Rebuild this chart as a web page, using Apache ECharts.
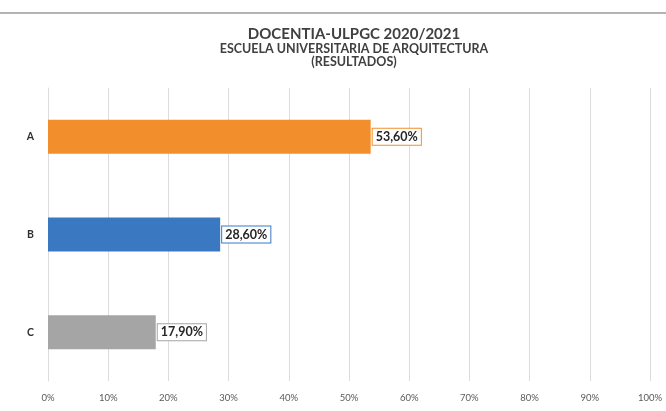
<!DOCTYPE html>
<html><head><meta charset="utf-8">
<script src="https://cdn.jsdelivr.net/npm/echarts@6/dist/echarts.min.js"></script>
<style>html,body{margin:0;padding:0;background:#fff}#c{width:666px;height:411px}</style>
</head><body><div id="c"></div>
<script>
const categories = ['A', 'B', 'C'];
const values = [53.6, 28.6, 17.9];
const barColors = ['#f28e2b', '#3a78c2', '#a5a5a5'];
const titleText = 'DOCENTIA-ULPGC 2020/2021';
const subtitleText = 'ESCUELA UNIVERSITARIA DE ARQUITECTURA\n(RESULTADOS)';

const FF = 'Lato, "Open Sans", sans-serif';
const chart = echarts.init(document.getElementById('c'));
chart.setOption({
  animation: false,
  backgroundColor: '#fff',
  textStyle: { fontFamily: FF },
  graphic: [{ type: 'line', shape: { x1: 0, y1: 13, x2: 666, y2: 13 }, style: { stroke: '#9a9a9a', lineWidth: 1.5 } }],
  title: {
    text: titleText,
    subtext: subtitleText,
    left: 349, top: 21, textAlign: 'center',
    itemGap: 0,
    textStyle: { fontSize: 15, fontWeight: 'bold', color: '#404040', fontFamily: FF, lineHeight: 16 },
    subtextStyle: { fontSize: 12.5, fontWeight: 'bold', color: '#404040', lineHeight: 13.5, fontFamily: FF }
  },
  grid: { left: 48, right: 16, top: 88, bottom: 30, containLabel: false },
  xAxis: {
    type: 'value', min: 0, max: 100, interval: 10,
    axisLabel: { formatter: '{value}%', color: '#595959', fontSize: 9.5, margin: 12, fontFamily: FF },
    splitLine: { show: true, lineStyle: { color: '#dcdcdc' } },
    axisLine: { show: false }, axisTick: { show: false }
  },
  yAxis: {
    type: 'category', data: categories, inverse: true,
    axisLabel: { color: '#303030', fontWeight: 'bold', fontSize: 10.5, margin: 14, fontFamily: FF },
    axisLine: { show: true, lineStyle: { color: '#dcdcdc' } }, axisTick: { show: false }
  },
  series: [{
    type: 'bar',
    data: values.map((v, i) => ({ value: v, itemStyle: { color: barColors[i] },
      label: { borderColor: barColors[i] } })),
    barWidth: 34,
    label: {
      show: true, position: 'right', distance: 2,
      formatter: p => p.value.toFixed(2).replace('.', ',') + '%',
      color: '#262626', fontWeight: 'bold', fontSize: 12.5, fontFamily: FF,
      backgroundColor: '#fff', borderWidth: 1, padding: [2, 3, 1, 3]
    }
  }]
});
</script></body></html>
